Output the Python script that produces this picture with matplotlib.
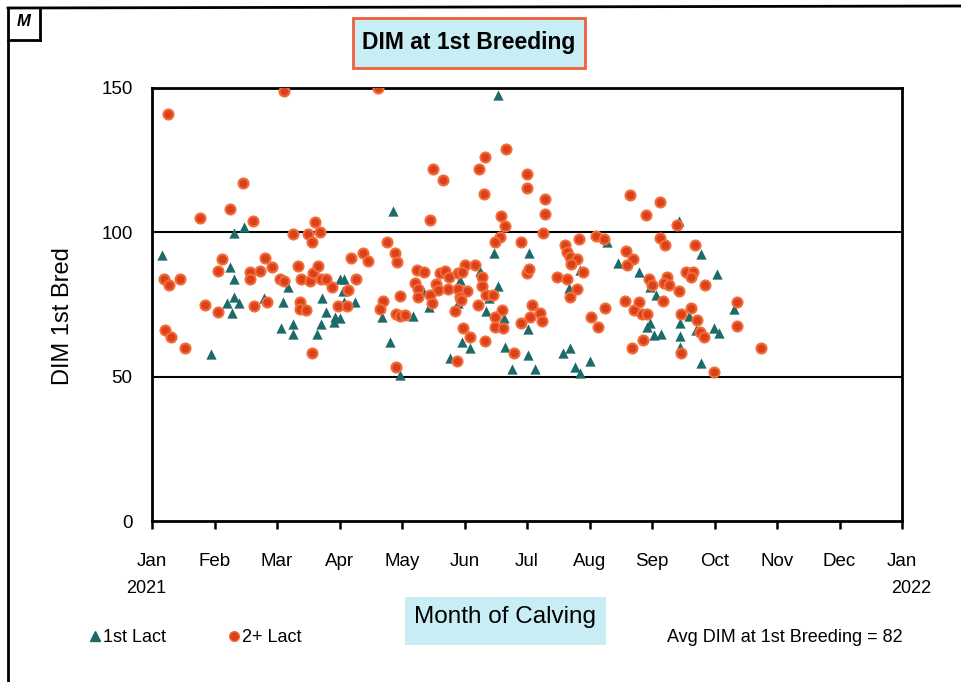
""" DIM at 1st breeding by month of calving (scatter, 1st vs 2+ lactation). """
import matplotlib.pyplot as plt
from matplotlib.lines import Line2D
from matplotlib.patches import Rectangle

plt.rcParams['font.family'] = ['Liberation Sans', 'DejaVu Sans']

# x = months since Jan 2021 (fractional), y = DIM at 1st breeding
lact1_month = [3.86, 1.31, 1.47, 0.16, 1.25, 1.31, 1.31, 1.39, 1.20, 1.28, 1.79, 2.09, 2.18,
               3.01, 3.07, 3.05, 3.07, 3.24, 2.72, 2.79, 2.93, 3.01, 2.91, 2.70, 2.64, 2.25,
               2.25, 2.06, 0.94, 3.68, 3.81, 3.96, 5.53, 5.47, 6.03, 5.25, 4.93, 5.53, 6.85,
               6.67, 7.46, 7.79, 4.34, 7.28, 4.17, 4.43, 4.90, 5.35, 5.63, 5.39, 4.96, 5.09,
               4.77, 5.65, 6.01, 6.02, 5.76, 6.13, 6.58, 6.69, 6.77, 6.84, 7.00, 8.43, 8.79,
               9.04, 7.97, 8.07, 9.31, 8.59, 8.44, 7.97, 7.92, 8.03, 8.14, 8.44, 8.44, 8.71,
               8.99, 9.07, 8.79]
lact1_dim = [107.5, 99.6, 101.7, 92, 87.9, 83.7, 77.7, 75.4, 75.4, 72.2, 77.1, 76, 80.9,
             83.7, 83.7, 79.8, 76, 76, 77.1, 72.5, 70.8, 70.2, 69, 68.2, 64.8, 68.2,
             64.8, 67, 57.7, 70.8, 61.9, 50.6, 147.6, 93, 93, 86.7, 83.5, 81.4, 86.9,
             80.6, 89.5, 86.3, 79.8, 96.7, 71, 74, 75.4, 72.8, 70.2, 77.1, 62.1, 60,
             56.4, 60.4, 57.5, 66.4, 52.5, 52.5, 58.1, 59.8, 53.4, 51.2, 55.5, 104, 92.5,
             85.6, 80.9, 78.3, 73.3, 71, 68.7, 68.5, 67.1, 64.4, 64.8, 64.1, 60.4, 66.2,
             66.7, 65.2, 54.6]

lact2_month = [0.25, 2.11, 3.62, 1.46, 1.24, 0.76, 1.62, 2.61, 2.26, 2.49, 2.68, 2.56, 3.76,
               3.89, 3.92, 1.12, 1.05, 0.19, 0.27, 0.45, 1.81, 1.92, 1.57, 1.57, 1.73, 2.04,
               2.11, 2.34, 2.39, 2.53, 2.58, 2.65, 2.70, 2.78, 2.88, 3.19, 3.38, 3.45, 3.26,
               3.13, 0.84, 1.06, 1.63, 1.84, 2.37, 2.36, 2.46, 2.98, 3.12, 0.20, 0.30, 0.52,
               2.56, 3.70, 3.65, 3.90, 3.91,
               5.67, 5.33, 5.23, 4.50, 4.66, 5.31, 6.00, 6.00, 6.28, 6.28, 7.65, 4.44, 5.58,
               5.65, 6.26, 5.56, 5.49, 5.90, 6.61, 6.64, 6.69, 6.83, 6.80, 6.70, 7.11, 7.23,
               7.59, 7.70, 7.60, 4.24, 4.35, 4.61, 4.69, 4.75, 4.90, 5.01, 5.16, 4.96, 5.28,
               6.00, 6.03, 6.48, 6.64, 6.90, 4.21, 4.26, 4.55, 4.57, 4.73, 4.90, 5.04, 4.93,
               4.45, 5.28, 5.35, 5.46, 6.80, 3.97,
               3.97, 4.04, 4.26, 4.48, 4.94, 4.85, 5.22, 5.60, 5.49, 5.49, 5.62, 4.98, 5.09,
               5.32, 4.88, 5.79, 5.90, 6.08, 6.04, 6.20, 6.24, 6.68, 7.02, 7.13, 7.25, 7.57,
               7.71, 7.79, 7.68,
               8.13, 7.91, 8.40, 8.13, 8.20, 8.68, 7.95, 8.00, 8.24, 8.19, 8.27, 8.43, 8.55,
               8.66, 8.62, 8.84, 7.84, 7.92, 8.17, 8.47, 8.63, 8.72, 8.77, 8.83, 7.86, 8.47,
               9.36, 9.36, 9.75, 8.99]
lact2_dim = [141, 149, 150, 117, 108, 105, 104, 103.5, 99.4, 99.4, 100, 96.5, 96.5,
             92.7, 89.8, 90.9, 86.7, 83.8, 81.6, 83.8, 91.2, 88.1, 86.4, 83.8, 86.7, 84,
             83.2, 88.3, 83.9, 83.2, 85.8, 88.3, 84, 84, 81.2, 91, 92.7, 90.2, 84,
             80, 75, 72.3, 74.5, 76, 76, 73.3, 73.1, 74.6, 74.6, 66.2, 63.8, 60,
             58.1, 76.2, 73.3, 71.6, 53.4,
             129, 126.2, 122.1, 122.1, 118.1, 113.3, 120.2, 115.5, 111.4, 106.3, 112.8, 104.3, 105.8,
             102.3, 99.7, 98.3, 96.5, 96.7, 95.6, 93.3, 91.6, 97.6, 90.6, 89.2, 98.7, 97.6,
             93.6, 90.6, 88.7, 86.9, 86.3, 86, 86.7, 84.4, 85.8, 88.7, 88.7, 86.3, 84.6,
             85.8, 87.2, 84.4, 83.7, 86.3, 82.5, 80.2, 82.1, 80, 80.2, 80.2, 79.8, 77.7,
             78.3, 81.4, 78.3, 78.3, 80.2, 77.9,
             71, 71.4, 77.7, 75.6, 76.5, 72.8, 74.8, 73.1, 70.8, 67.3, 66.7, 66.7, 63.8,
             62.5, 55.5, 58.3, 68.7, 74.8, 70.8, 71.9, 69.4, 77.7, 70.8, 67.3, 73.7, 76.3,
             73.1, 76, 59.8,
             110.6, 106, 102.5, 97.9, 95.6, 95.6, 84, 81.7, 84.6, 82.5, 81.7, 79.8, 86.3,
             86.3, 84.4, 81.7, 71.7, 71.7, 76.3, 71.7, 73.9, 69.6, 65.6, 63.8, 62.7, 58.1,
             75.7, 67.6, 60, 51.7]

month_labels = ['Jan', 'Feb', 'Mar', 'Apr', 'May', 'Jun', 'Jul', 'Aug', 'Sep', 'Oct',
                'Nov', 'Dec', 'Jan']
y_ticks = [0, 50, 100, 150]

ORANGE = '#d9401c'
ORANGE_EDGE = '#f36b36'
TEAL = '#1d6b68'
BOX_BLUE = '#c8edf5'

fig = plt.figure(figsize=(9.61, 6.82), dpi=100)
W, H = 961, 682

ax = fig.add_axes([152 / W, 1 - 521 / H, 750 / W, 433 / H])
ax.scatter(lact1_month, lact1_dim, marker='^', s=55, color=TEAL, linewidths=0, zorder=3)
ax.scatter(lact2_month, lact2_dim, marker='o', s=52, facecolor=ORANGE,
           edgecolor=ORANGE_EDGE, linewidths=1.5, zorder=4)

ax.set_xlim(0, 12)
ax.set_ylim(0, 150)
ax.set_xticks(range(13))
ax.set_xticklabels(month_labels, fontsize=13.5)
ax.set_yticks(y_ticks)
ax.set_yticklabels([str(t) for t in y_ticks], fontsize=13.5)
ax.tick_params(axis='x', direction='out', length=6, width=1.8, pad=17)
ax.tick_params(axis='y', length=0, pad=14)
for s in ax.spines.values():
    s.set_linewidth(2)
for yv in (50, 100):
    ax.axhline(yv, color='black', linewidth=1.5, zorder=1)

ax.text(-0.1, -0.155, '2021', transform=ax.get_xaxis_transform(), fontsize=13,
        ha='center', va='center')
ax.text(12.15, -0.155, '2022', transform=ax.get_xaxis_transform(), fontsize=13,
        ha='center', va='center')

# y label
fig.text(63 / W, 1 - 316 / H, 'DIM 1st Bred', rotation=90, fontsize=17,
         ha='center', va='center')

# title box
fig.patches.append(Rectangle((353 / W, 1 - 68 / H), 232 / W, 50 / H, transform=fig.transFigure,
                             facecolor=BOX_BLUE, edgecolor='#f0603a', linewidth=2))
fig.text(469 / W, 1 - 43 / H, 'DIM at 1st Breeding', fontsize=16.5, fontweight='bold',
         ha='center', va='center')

# x label box
fig.patches.append(Rectangle((405 / W, 1 - 645 / H), 201 / W, 48 / H, transform=fig.transFigure,
                             facecolor=BOX_BLUE, edgecolor='none'))
fig.text(505 / W, 1 - 617 / H, 'Month of Calving', fontsize=17.5, ha='center', va='center')

# legend
handles = [Line2D([], [], marker='^', linestyle='none', color=TEAL, markersize=7),
           Line2D([], [], marker='o', linestyle='none', markerfacecolor=ORANGE,
                  markeredgecolor=ORANGE_EDGE, markersize=7)]
fig.legend(handles, ['1st Lact', '2+ Lact'], loc='center left', ncol=2, frameon=False,
           bbox_to_anchor=(72 / W, 1 - 638 / H), fontsize=13, handlelength=0.8,
           handletextpad=0.0, columnspacing=3.4)

fig.text(903 / W, 1 - 638 / H, 'Avg DIM at 1st Breeding = 82', fontsize=13,
         ha='right', va='center')

# outer frame and corner "M" box
fig.add_artist(Line2D([8 / W, 8 / W], [0, 1 - 8 / H], color='black', linewidth=2))
fig.add_artist(Line2D([8 / W, 1], [1 - 8 / H, 1 - 6 / H], color='black', linewidth=2))
fig.add_artist(Line2D([40 / W, 40 / W], [1 - 8 / H, 1 - 40 / H], color='black', linewidth=2))
fig.add_artist(Line2D([8 / W, 40 / W], [1 - 40 / H, 1 - 40 / H], color='black', linewidth=2))
fig.text(24 / W, 1 - 22 / H, 'M', fontsize=12, fontweight='bold', fontstyle='italic',
         ha='center', va='center')

fig.savefig('out.png', dpi=100)
